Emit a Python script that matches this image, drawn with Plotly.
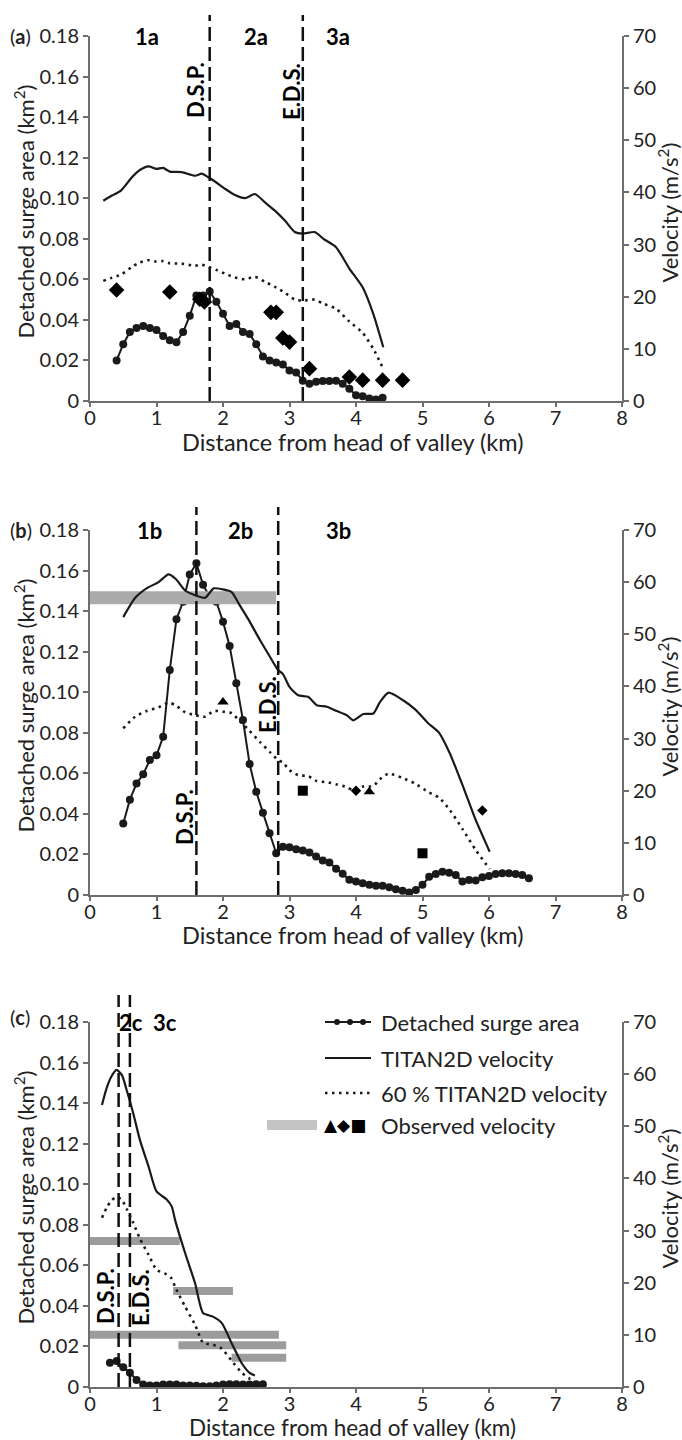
import plotly.graph_objects as go
from plotly.subplots import make_subplots

# ---------------- Panel (a) ----------------
area_a_km = [0.4, 0.5, 0.6, 0.7, 0.8, 0.9, 1.0, 1.1, 1.2, 1.3, 1.4, 1.5, 1.6, 1.7, 1.8,
             1.9, 2.0, 2.1, 2.2, 2.3, 2.4, 2.5, 2.6, 2.7, 2.8, 2.9, 3.0, 3.1, 3.2,
             3.3, 3.4, 3.5, 3.6, 3.7, 3.8, 3.9, 4.0, 4.1, 4.2, 4.3, 4.4]
area_a = [0.020, 0.028, 0.034, 0.036, 0.037, 0.036, 0.035, 0.032, 0.030, 0.029, 0.034,
          0.042, 0.052, 0.052, 0.054, 0.049, 0.043, 0.037, 0.038, 0.034, 0.033, 0.028,
          0.022, 0.020, 0.019, 0.018, 0.015, 0.014, 0.010, 0.0085, 0.0095, 0.0099,
          0.0099, 0.010, 0.0085, 0.006, 0.0028, 0.0023, 0.0012, 0.0007, 0.0016]
titan_a_km = [0.2, 0.33, 0.47, 0.63, 0.75, 0.88, 1.0, 1.1, 1.2, 1.38, 1.58, 1.68, 1.78,
              1.9, 2.03, 2.18, 2.33, 2.48, 2.63, 2.78, 2.93, 3.08, 3.2, 3.38, 3.51, 3.7,
              3.9, 4.1, 4.26, 4.41]
titan_a = [38.4, 39.4, 40.4, 42.9, 44.3, 45.0, 44.5, 44.7, 44.0, 43.9, 43.2, 43.6, 42.9,
           41.9, 40.7, 39.5, 38.9, 39.7, 38.1, 36.5, 34.6, 32.4, 32.1, 32.4, 31.1, 29.5,
           25.4, 21.8, 16.7, 10.3]
obs_diamond_a_km = [0.4, 1.2, 1.65, 1.72, 2.72, 2.8, 2.9, 3.0, 3.3, 3.9, 4.1, 4.4, 4.7]
obs_diamond_a = [21.3, 20.9, 19.5, 19.0, 17.0, 17.0, 12.1, 11.3, 6.2, 4.6, 4.0, 4.0, 4.0]
dsp_a, eds_a = 1.8, 3.2

# ---------------- Panel (b) ----------------
area_b_km = [0.5, 0.6, 0.7, 0.8, 0.9, 1.0, 1.1, 1.2, 1.3, 1.4, 1.5, 1.6, 1.7, 1.8, 1.9,
             2.0, 2.1, 2.2, 2.3, 2.4, 2.5, 2.6, 2.7, 2.8, 2.9, 3.0, 3.1, 3.2, 3.3, 3.4,
             3.5, 3.6, 3.7, 3.8, 3.9, 4.0, 4.1, 4.2, 4.3, 4.4, 4.5, 4.6, 4.7, 4.8, 4.9,
             5.0, 5.1, 5.2, 5.3, 5.4, 5.5, 5.6, 5.7, 5.8, 5.9, 6.0, 6.1, 6.2, 6.3, 6.4,
             6.5, 6.6]
area_b = [0.0353, 0.047, 0.055, 0.0595, 0.0666, 0.0689, 0.078, 0.111, 0.136, 0.1446,
          0.158, 0.1636, 0.153, 0.147, 0.1446, 0.1348, 0.1228, 0.1044, 0.0863, 0.0646,
          0.0509, 0.0406, 0.0304, 0.0206, 0.0238, 0.0235, 0.0225, 0.022, 0.021, 0.019,
          0.017, 0.016, 0.013, 0.0105, 0.0075, 0.0066, 0.0058, 0.005, 0.0046, 0.0046,
          0.0038, 0.0028, 0.0021, 0.0012, 0.0025, 0.005, 0.009, 0.0104, 0.0115, 0.011,
          0.0099, 0.0066, 0.0074, 0.0071, 0.0087, 0.0094, 0.0103, 0.0107, 0.0107, 0.0104,
          0.0099, 0.0082]
titan_b_km = [0.5, 0.68, 0.85, 1.03, 1.18, 1.29, 1.43, 1.58, 1.73, 1.86, 2.0, 2.13, 2.25,
              2.38, 2.56, 2.71, 2.83, 2.9, 3.0, 3.13, 3.28, 3.41, 3.56, 3.71, 3.86, 3.96,
              4.11, 4.26, 4.36, 4.49, 4.69, 4.89, 5.08, 5.25, 5.41, 5.61, 5.8, 6.01]
titan_b = [53.3, 57.0, 58.8, 60.0, 61.5, 60.6, 58.4, 57.5, 57.0, 58.8, 58.6, 58.1, 55.6,
           52.9, 48.8, 45.6, 43.1, 42.4, 39.9, 38.3, 38.0, 36.4, 36.1, 35.3, 34.5, 33.5,
           34.7, 34.8, 37.0, 38.8, 37.5, 35.6, 33.0, 31.1, 27.2, 20.8, 14.4, 8.3]
obs_triangle_b_km = [2.0, 4.2]
obs_triangle_b = [37.0, 19.8]
obs_square_b_km = [3.2, 5.0]
obs_square_b = [20.0, 8.0]
obs_diamond_b_km = [4.0, 5.9]
obs_diamond_b = [20.0, 16.2]
obs_range_b = [(0.0, 2.8, 57.0)]          # (from km, to km, velocity)
dsp_b, eds_b = 1.6, 2.83

# ---------------- Panel (c) ----------------
area_c_km = [0.3, 0.4, 0.5, 0.6, 0.7, 0.8, 0.9, 1.0, 1.1, 1.2, 1.3, 1.4, 1.5, 1.6, 1.7,
             1.8, 1.9, 2.0, 2.1, 2.2, 2.3, 2.4, 2.5, 2.6]
area_c = [0.012, 0.0128, 0.0098, 0.007, 0.0035, 0.0012, 0.0008, 0.0008, 0.0012, 0.0012,
          0.0012, 0.0008, 0.0008, 0.0006, 0.0004, 0.0004, 0.0008, 0.0012, 0.0014, 0.0014,
          0.0012, 0.0012, 0.0014, 0.0014]
titan_c_km = [0.18, 0.25, 0.32, 0.4, 0.48, 0.55, 0.65, 0.75, 0.88, 1.0, 1.15, 1.23, 1.28,
              1.43, 1.58, 1.7, 1.85, 1.98, 2.13, 2.28, 2.4, 2.48]
titan_c = [54.1, 57.3, 59.5, 60.8, 59.8, 57.0, 52.5, 47.4, 42.3, 37.5, 36.0, 34.6, 32.0,
           25.7, 19.9, 14.2, 13.5, 12.3, 8.4, 4.6, 2.7, 2.2]
obs_range_c = [(0.0, 1.35, 28.0), (1.25, 2.15, 18.4), (0.0, 2.84, 10.0),
               (1.33, 2.95, 8.0), (2.13, 2.95, 5.6)]
dsp_c, eds_c = 0.43, 0.6

# axis ticks
x_ticks = [0, 1, 2, 3, 4, 5, 6, 7, 8]
area_ticks = [0, 0.02, 0.04, 0.06, 0.08, 0.10, 0.12, 0.14, 0.16, 0.18]
area_tick_text = ["0", "0.02", "0.04", "0.06", "0.08", "0.10", "0.12", "0.14", "0.16", "0.18"]
vel_ticks = [0, 10, 20, 30, 40, 50, 60, 70]

# 60 % of the TITAN2D velocity
titan60_a = [0.6 * v for v in titan_a]
titan60_b = [0.6 * v for v in titan_b]
titan60_c = [0.6 * v for v in titan_c]

# ---------------- layout geometry ----------------
W, H = 682, 1440
ML, MR, MT, MB = 90, 60, 36, 53
PW, PH = W - ML - MR, H - MT - MB


def fx(px):
    return (px - ML) / PW


def fy(py):
    return 1 - (py - MT) / PH


panels = [  # top / bottom pixel rows of each plot area
    dict(top=36, bottom=401, tag="a", line_top=15, xtitle=442),
    dict(top=530, bottom=895, tag="b", line_top=507, xtitle=935),
    dict(top=1022, bottom=1387, tag="c", line_top=995, xtitle=1427),
]

FONT = "Lato"
INK = "#1a1a1a"
TXT = "#222222"
AXC = "#6e6e6e"

fig = make_subplots(rows=3, cols=1, specs=[[{"secondary_y": True}]] * 3)


def add_area(row, xs, ys):
    fig.add_trace(go.Scatter(x=xs, y=ys, mode="lines+markers",
                             line=dict(color=INK, width=2),
                             marker=dict(color=INK, size=8, line=dict(width=0)),
                             showlegend=False), row=row, col=1, secondary_y=False)


def add_titan(row, xs, ys, ys60):
    fig.add_trace(go.Scatter(x=xs, y=ys, mode="lines",
                             line=dict(color=INK, width=2.2, shape="spline", smoothing=0.6),
                             showlegend=False), row=row, col=1, secondary_y=True)
    fig.add_trace(go.Scatter(x=xs, y=ys60, mode="lines",
                             line=dict(color=INK, width=2.6, dash="2.5px,4.5px",
                                       shape="spline", smoothing=0.6),
                             showlegend=False), row=row, col=1, secondary_y=True)


def add_ranges(row, ranges, color, width):
    for x0, x1, v in ranges:
        fig.add_trace(go.Scatter(x=[x0, x1], y=[v, v], mode="lines",
                                 line=dict(color=color, width=width),
                                 showlegend=False), row=row, col=1, secondary_y=True)


def add_points(row, xs, ys, symbol, size):
    fig.add_trace(go.Scatter(x=xs, y=ys, mode="markers",
                             marker=dict(symbol=symbol, size=size, color="#000000",
                                         line=dict(width=0)),
                             showlegend=False), row=row, col=1, secondary_y=True)


# panel (a)
add_area(1, area_a_km, area_a)
add_titan(1, titan_a_km, titan_a, titan60_a)
add_points(1, obs_diamond_a_km, obs_diamond_a, "diamond", 12)

# panel (b)
add_ranges(2, obs_range_b, "#ababab", 13)
add_area(2, area_b_km, area_b)
add_titan(2, titan_b_km, titan_b, titan60_b)
add_points(2, obs_triangle_b_km, obs_triangle_b, "triangle-up", 10)
add_points(2, obs_square_b_km, obs_square_b, "square", 10)
add_points(2, obs_diamond_b_km, obs_diamond_b, "diamond", 8)

# panel (c)
add_ranges(3, obs_range_c, "#9c9c9c", 8)
add_area(3, area_c_km, area_c)
add_titan(3, titan_c_km, titan_c, titan60_c)

axis_common = dict(showline=True, linecolor=AXC, linewidth=2, ticks="outside",
                   ticklen=5, tickwidth=1.5, tickcolor=AXC, showgrid=False,
                   zeroline=False, tickfont=dict(family=FONT, size=20, color=TXT))

layout = dict(width=W, height=H, margin=dict(l=ML, r=MR, t=MT, b=MB),
              paper_bgcolor="white", plot_bgcolor="white", showlegend=False)
for i, p in enumerate(panels):
    dom = [max(0.0, fy(p["bottom"])), min(1.0, fy(p["top"]))]
    xi = "" if i == 0 else str(i + 1)
    yl = "" if i == 0 else str(2 * i + 1)
    yr = str(2 * i + 2)
    layout["xaxis" + xi] = dict(axis_common, range=[0, 8], tickvals=x_ticks, ticklen=4,
                                ticklabelstandoff=-6, anchor="y" + yl, domain=[0, 1])
    layout["yaxis" + yl] = dict(axis_common, range=[0, 0.18], tickvals=area_ticks,
                                ticktext=area_tick_text, domain=dom, anchor="x" + xi)
    layout["yaxis" + yr] = dict(axis_common, range=[0, 70], tickvals=vel_ticks,
                                side="right", overlaying="y" + yl, anchor="x" + xi)
fig.update_layout(**layout)

annotations = []
shapes = []
title_font = dict(family=FONT, size=22, color=TXT)
label_font = dict(family=FONT, size=20, color=TXT)
zone_font = dict(family=FONT, size=22, color="#000000")
rot_font = dict(family=FONT, size=22, color="#000000")

boundaries = [(dsp_a, eds_a), (dsp_b, eds_b), (dsp_c, eds_c)]
zone_x = [(0.86, 2.49, 3.73), (0.9, 2.27, 3.73), (None, 0.61, 1.13)]
rot_label_px = [  # (D.S.P. centre x, y), (E.D.S. centre x, y)
    ((196, 90), (291, 92)),
    ((184, 817), (267, 705)),
    ((105, 1296), (140, 1298)),
]

for i, p in enumerate(panels):
    xi = "x" if i == 0 else "x" + str(i + 1)
    yl = "y" if i == 0 else "y" + str(2 * i + 1)
    mid = (p["top"] + p["bottom"]) / 2
    # axis titles
    annotations.append(dict(text="Distance from head of valley (km)", xref="paper", yref="paper",
                            x=fx(352), y=fy(p["xtitle"]), showarrow=False,
                            font=dict(family=FONT, size=23.5 if i < 2 else 22.5, color=TXT),
                            xanchor="center", yanchor="middle"))
    annotations.append(dict(text="Detached surge area (km<sup>2</sup>)", xref="paper", yref="paper",
                            x=fx(24), y=fy(mid - 7), showarrow=False, textangle=-90,
                            font=title_font, xanchor="center", yanchor="middle"))
    annotations.append(dict(text="Velocity (m/s<sup>2</sup>)", xref="paper", yref="paper",
                            x=fx(668), y=fy(mid - 6), showarrow=False, textangle=-90,
                            font=title_font, xanchor="center", yanchor="middle"))
    # panel tag
    annotations.append(dict(text="(<b>%s</b>)" % p["tag"], xref="paper", yref="paper",
                            x=fx(8), y=fy(p["top"] - (5 if i == 2 else 0)), showarrow=False,
                            font=label_font, xanchor="left", yanchor="middle"))
    # zone labels
    for k, zx in enumerate(zone_x[i]):
        if zx is None:
            continue
        annotations.append(dict(text="<b>%d%s</b>" % (k + 1, p["tag"]), xref=xi, yref="paper",
                                x=zx, y=fy(p["top"]), showarrow=False, font=zone_font,
                                xanchor="center", yanchor="middle"))
    # boundary lines
    over = (p["top"] - p["line_top"]) / (p["bottom"] - p["top"])
    for bx in boundaries[i]:
        shapes.append(dict(type="line", xref=xi, yref=yl + " domain", x0=bx, x1=bx,
                           y0=0, y1=1 + over, line=dict(color="#111111", width=2.5,
                                                        dash="14px,6px")))
    for txt, (cx, cy) in zip(["D.S.P.", "E.D.S."], rot_label_px[i]):
        annotations.append(dict(text="<b>%s</b>" % txt, xref="paper", yref="paper",
                                x=fx(cx), y=fy(cy), showarrow=False, textangle=-90,
                                font=rot_font, xanchor="center", yanchor="middle"))

# legend (panel c)
leg_rows = [1022, 1058, 1093, 1125]
leg_text = ["Detached surge area", "TITAN2D velocity", "60 % TITAN2D velocity",
            "Observed velocity"]
for ry, t in zip(leg_rows, leg_text):
    annotations.append(dict(text=t, xref="paper", yref="paper", x=fx(379), y=fy(ry),
                            showarrow=False, font=title_font, xanchor="left",
                            yanchor="middle"))
shapes.append(dict(type="line", xref="paper", yref="paper", x0=fx(325), x1=fx(371),
                   y0=fy(leg_rows[0]), y1=fy(leg_rows[0]), line=dict(color=INK, width=2)))
for cx in (337, 350, 363):
    shapes.append(dict(type="circle", xref="paper", yref="paper",
                       x0=fx(cx - 3), x1=fx(cx + 3), y0=fy(leg_rows[0] + 3),
                       y1=fy(leg_rows[0] - 3), fillcolor=INK, line=dict(width=0)))
shapes.append(dict(type="line", xref="paper", yref="paper", x0=fx(325), x1=fx(371),
                   y0=fy(leg_rows[1]), y1=fy(leg_rows[1]), line=dict(color=INK, width=2)))
shapes.append(dict(type="line", xref="paper", yref="paper", x0=fx(325), x1=fx(371),
                   y0=fy(leg_rows[2]), y1=fy(leg_rows[2]),
                   line=dict(color=INK, width=2.6, dash="2.5px,4.5px")))
shapes.append(dict(type="rect", xref="paper", yref="paper", x0=fx(267), x1=fx(317),
                   y0=fy(leg_rows[3] + 5), y1=fy(leg_rows[3] - 5), fillcolor="#c4c4c4",
                   line=dict(width=0)))
annotations.append(dict(text="▲◆■", xref="paper", yref="paper", x=fx(322), y=fy(leg_rows[3]),
                        showarrow=False, xanchor="left", yanchor="middle",
                        font=dict(family="DejaVu Sans", size=17, color="#000000")))

fig.update_layout(annotations=annotations, shapes=shapes)
fig.write_html("out.html")
